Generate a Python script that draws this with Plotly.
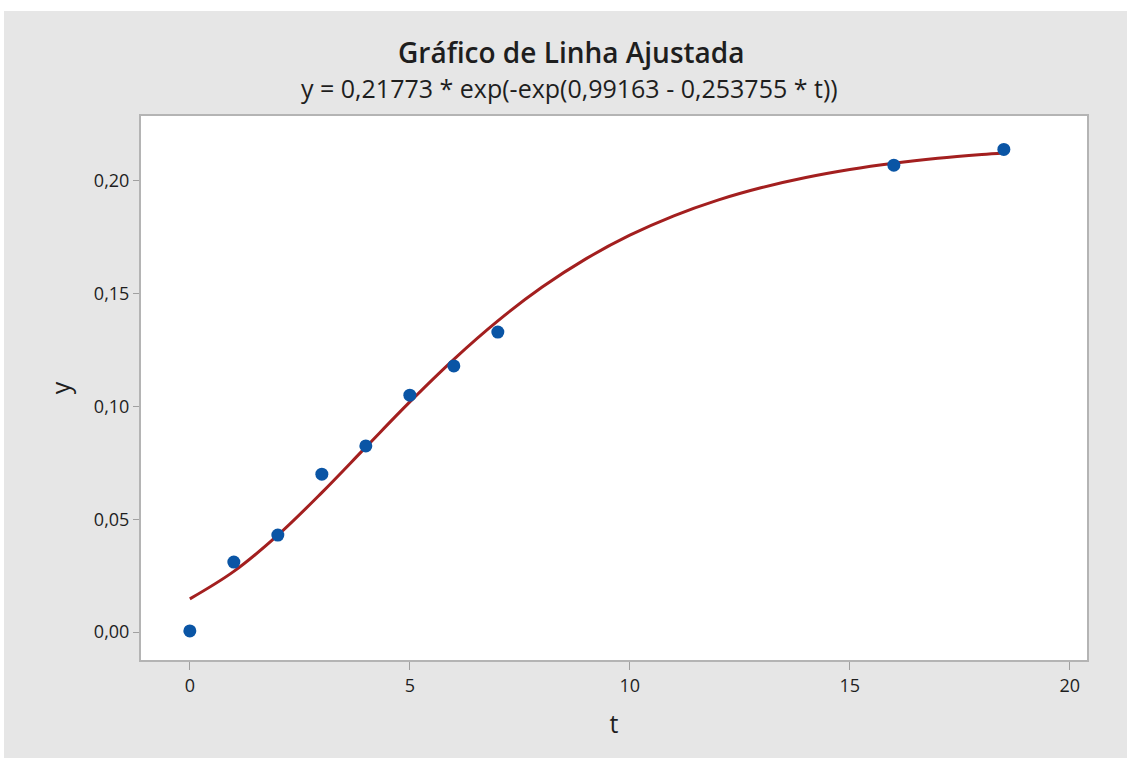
import plotly.graph_objects as go

# Observed data
t_obs = [0, 1, 2, 3, 4, 5, 6, 7, 16, 18.5]
y_obs = [0.0005, 0.031, 0.043, 0.070, 0.0825, 0.105, 0.118, 0.133, 0.207, 0.214]

t_fit = [0, 1, 2, 3, 4, 5, 6, 7, 8, 9, 10, 11, 12, 13, 14, 15, 16, 17, 18, 18.5]
y_fit = [0.01469, 0.02689, 0.04296, 0.06182, 0.08197, 0.10204, 0.12092, 0.13796,
         0.15283, 0.16544, 0.17594, 0.18455, 0.19152, 0.19710, 0.20155, 0.20507,
         0.20784, 0.21002, 0.21172, 0.21243]

x_ticks = [0, 5, 10, 15, 20]
x_labels = ["0", "5", "10", "15", "20"]
y_ticks = [0.00, 0.05, 0.10, 0.15, 0.20]
y_labels = ["0,00", "0,05", "0,10", "0,15", "0,20"]

W, H = 1127, 758
ML, MR, MT, MB = 141, 40, 116, 98

fig = go.Figure()
fig.add_trace(go.Scatter(x=t_fit, y=y_fit, mode="lines", line=dict(color="#a31f1f", width=3, shape="spline"),
                         hoverinfo="skip", showlegend=False))
fig.add_trace(go.Scatter(x=t_obs, y=y_obs, mode="markers", marker=dict(color="#0a55a5", size=13),
                         showlegend=False))

font = "Open Sans, Noto Sans, sans-serif"
gray = "#e6e6e6"
txt = "#1e1e1e"

# white strip at top and left (page background outside chart panel)
pw = W - ML - MR
ph = H - MT - MB
fig.add_shape(type="rect", xref="paper", yref="paper",
              x0=-ML / pw, x1=(W - ML) / pw, y0=1 + (MT - 11) / ph, y1=1 + MT / ph + 0.01,
              fillcolor="white", line=dict(width=0), layer="below")
fig.add_shape(type="rect", xref="paper", yref="paper",
              x0=-ML / pw - 0.01, x1=(-ML + 4) / pw, y0=-MB / ph - 0.01, y1=1 + MT / ph + 0.01,
              fillcolor="white", line=dict(width=0), layer="below")

fig.add_annotation(text="Gráfico de Linha Ajustada", xref="paper", yref="paper",
                   x=(571 - ML) / pw, y=1 + (MT - 52) / ph, xanchor="center", yanchor="middle",
                   showarrow=False, font=dict(family=font, size=28, color=txt, weight=600))
fig.add_annotation(text="y = 0,21773 * exp(-exp(0,99163 - 0,253755 * t))", xref="paper", yref="paper",
                   x=(569 - ML) / pw, y=1 + (MT - 88) / ph, xanchor="center", yanchor="middle",
                   showarrow=False, font=dict(family=font, size=25, color=txt))

fig.update_layout(
    width=W, height=H,
    margin=dict(l=ML, r=MR, t=MT, b=MB),
    paper_bgcolor=gray, plot_bgcolor="white",
    font=dict(family=font, color=txt),
    xaxis=dict(range=[-1.11, 20.39], tickvals=x_ticks, ticktext=x_labels, showgrid=False, zeroline=False,
               showline=True, mirror=True, linecolor="#b4b4b4", linewidth=2,
               ticks="outside", ticklen=8, tickcolor="#a0a0a0",
               tickfont=dict(size=18),
               title=dict(text="t", font=dict(size=25), standoff=20)),
    yaxis=dict(range=[-0.0124, 0.2288], tickvals=y_ticks, ticktext=y_labels, showgrid=False, zeroline=False,
               showline=True, mirror=True, linecolor="#b4b4b4", linewidth=2,
               ticks="outside", ticklen=6, tickcolor="#a0a0a0",
               tickfont=dict(size=18),
               title=dict(text="y", font=dict(size=25), standoff=16)),
)

fig.write_html("out.html")
